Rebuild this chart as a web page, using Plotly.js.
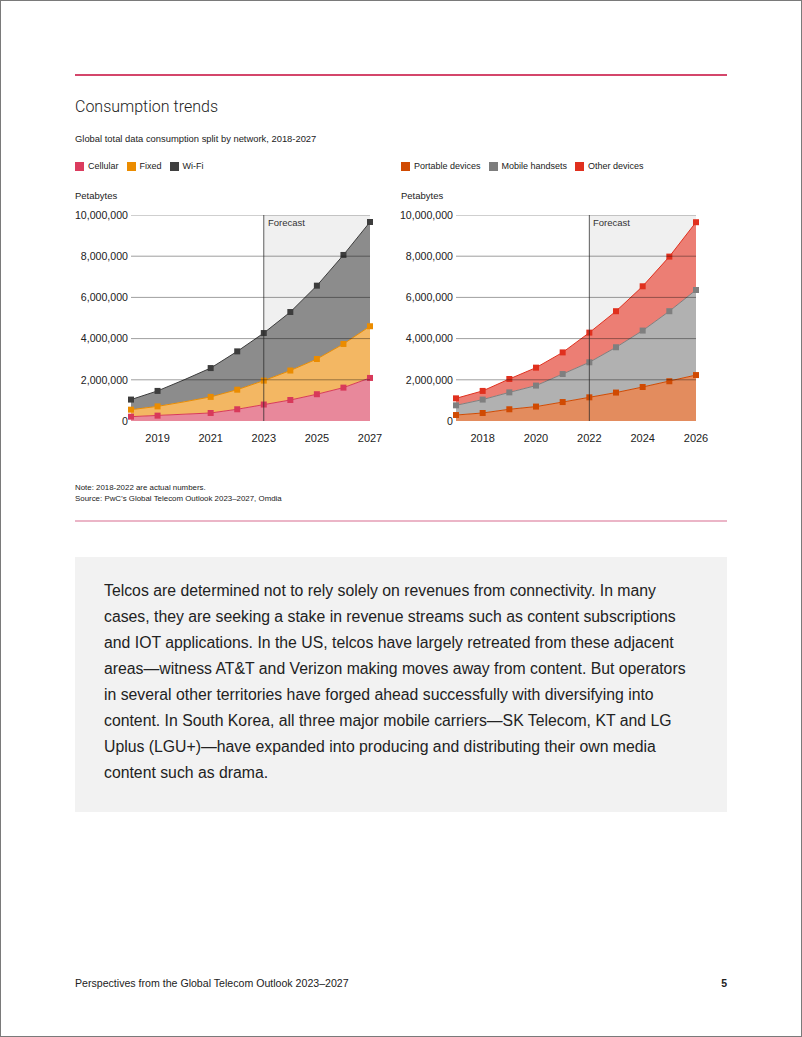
<!DOCTYPE html>
<html><head><meta charset="utf-8">
<script src="https://cdn.plot.ly/plotly-3.0.1.min.js"></script>
<style>
body{margin:0;background:#fff;}
#page{position:relative;width:802px;height:1037px;background:#fff;font-family:"Liberation Sans",Arial,Helvetica,sans-serif;color:#222;overflow:hidden;box-shadow:inset 0 0 0 1px #7a7a7a;}
.abs{position:absolute;white-space:nowrap;}
.legend{display:flex;align-items:center;font-size:9px;line-height:12px;color:#222;}
.legend .sq{width:9px;height:9px;margin-right:4px;}
.legend .it{display:flex;align-items:center;margin-right:8px;}
</style></head><body>
<div id="page">
  <div class="abs" style="left:75px;top:74px;width:652px;height:2px;background:#d4466b"></div>
  <div class="abs" style="left:75px;top:97px;font-size:16px;line-height:20px;font-family:Roboto,'Liberation Sans',sans-serif;font-weight:300;color:#222">Consumption trends</div>
  <div class="abs" style="left:75px;top:133px;font-size:9.4px;line-height:12px">Global total data consumption split by network, 2018-2027</div>
  <div id="legA" class="abs legend" style="left:75px;top:160px"></div>
  <div id="legB" class="abs legend" style="left:401px;top:160px"></div>
  <div class="abs" style="left:75px;top:190px;font-size:9.5px;line-height:12px">Petabytes</div>
  <div class="abs" style="left:401px;top:190px;font-size:9.5px;line-height:12px">Petabytes</div>
  <div id="chart" class="abs" style="left:0;top:150px;width:802px;height:310px"></div>
  <div class="abs" style="left:75px;top:482px;font-size:7.9px;line-height:11px">Note: 2018-2022 are actual numbers.<br>Source: PwC’s Global Telecom Outlook 2023–2027, Omdia</div>
  <div class="abs" style="left:75px;top:520px;width:652px;height:1.5px;background:#ebb5c7"></div>
  <div class="abs" style="left:75px;top:557px;width:652px;height:255px;background:#f2f2f2"></div>
  <div class="abs" style="left:104px;top:578px;font-size:15.8px;line-height:26px;color:#222">Telcos are determined not to rely solely on revenues from connectivity. In many<br>cases, they are seeking a stake in revenue streams such as content subscriptions<br>and IOT applications. In the US, telcos have largely retreated from these adjacent<br>areas—witness AT&amp;T and Verizon making moves away from content. But operators<br>in several other territories have forged ahead successfully with diversifying into<br>content. In South Korea, all three major mobile carriers—SK Telecom, KT and LG<br>Uplus (LGU+)—have expanded into producing and distributing their own media<br>content such as drama.</div>
  <div class="abs" style="left:75px;top:977px;font-size:10.6px;line-height:12px">Perspectives from the Global Telecom Outlook 2023–2027</div>
  <div class="abs" style="left:700px;width:27px;text-align:right;top:977px;font-size:10.5px;line-height:12px;font-weight:bold">5</div>
</div>
<script>
// ---- Data (petabytes) ----
const yearsA = [2018, 2019, 2020, 2021, 2022, 2023, 2024, 2025, 2026, 2027];
const cellular = [210000, 260000, 330000, 390000, 570000, 800000, 1020000, 1300000, 1620000, 2090000];
const fixed    = [340000, 450000, 600000, 780000, 950000, 1160000, 1430000, 1710000, 2120000, 2510000];
const wifi     = [490000, 750000, 1070000, 1400000, 1860000, 2310000, 2840000, 3560000, 4320000, 5060000];
const namesA = ['Cellular', 'Fixed', 'Wi-Fi'];

const yearsB = [2017, 2018, 2019, 2020, 2021, 2022, 2023, 2024, 2025, 2026];
const portable = [290000, 390000, 570000, 700000, 920000, 1150000, 1380000, 1650000, 1930000, 2230000];
const mobile   = [470000, 650000, 820000, 1020000, 1360000, 1700000, 2200000, 2740000, 3400000, 4130000];
const other    = [340000, 420000, 650000, 870000, 1050000, 1440000, 1750000, 2150000, 2650000, 3290000];
const namesB = ['Portable devices', 'Mobile handsets', 'Other devices'];

const ticksA = [2019, 2021, 2023, 2025, 2027];
const ticksB = [2018, 2020, 2022, 2024, 2026];
const yTicks = [0, 2000000, 4000000, 6000000, 8000000, 10000000];
const forecastA = 2023, forecastB = 2022;
const forecastLabel = 'Forecast';

// ---- Styles ----
const legColA = ['#db3c5e', '#eb8c00', '#404040'];
const fillA   = ['#e8889b', '#f3b763', '#8c8c8c'];
const mkA     = ['#d8395a', '#eb8c00', '#3d3d3d'];
const legColB = ['#d04a02', '#7d7d7d', '#e0301e'];
const fillB   = ['#e38c5e', '#b1b1b1', '#ec7e74'];
const mkB     = ['#d04a02', '#7f7f7f', '#e0301e'];

function buildLegend(id, names, cols) {
  const el = document.getElementById(id);
  names.forEach((n, i) => {
    const it = document.createElement('div'); it.className = 'it';
    const sq = document.createElement('div'); sq.className = 'sq'; sq.style.background = cols[i];
    const tx = document.createElement('span'); tx.textContent = n;
    it.appendChild(sq); it.appendChild(tx); el.appendChild(it);
  });
}
buildLegend('legA', namesA, legColA);
buildLegend('legB', namesB, legColB);

const missingA = yearsA.map(y => y === 2020 ? 0 : 1); // no marker drawn at 2020 in left chart

const traces = [];
[cellular, fixed, wifi].forEach((s, i) => traces.push({
  x: yearsA, y: s, type: 'scatter', mode: 'lines+markers', stackgroup: 'a',
  name: namesA[i], xaxis: 'x', yaxis: 'y', fillcolor: fillA[i],
  line: {color: mkA[i], width: 1},
  marker: {symbol: 'square', size: 6, color: mkA[i], opacity: missingA},
  cliponaxis: false, hoverinfo: 'x+y+name'
}));
[portable, mobile, other].forEach((s, i) => traces.push({
  x: yearsB, y: s, type: 'scatter', mode: 'lines+markers', stackgroup: 'b',
  name: namesB[i], xaxis: 'x2', yaxis: 'y2', fillcolor: fillB[i],
  line: {color: mkB[i], width: 1},
  marker: {symbol: 'square', size: 6, color: mkB[i]},
  cliponaxis: false, hoverinfo: 'x+y+name'
}));

function xa(domain, range, ticks, anchor) {
  return {domain: domain, range: range, tickvals: ticks, ticktext: ticks.map(String), anchor: anchor,
    showgrid: false, zeroline: false, showline: false, ticks: '', ticklabelstandoff: 9,
    tickfont: {size: 11, color: '#222'}, fixedrange: true};
}
function ya(anchor) {
  return {range: [0, 10000000], tickvals: yTicks, tickformat: ',d', anchor: anchor,
    showgrid: false, zeroline: false, showline: false, ticks: '', ticklabelstandoff: 2,
    tickfont: {size: 10.6, color: '#222'}, fixedrange: true};
}

const shapes = [];
const annotations = [];
[['x', 'y', forecastA, yearsA], ['x2', 'y2', forecastB, yearsB]].forEach(([xr, yr, f, yrs]) => {
  shapes.push({type: 'rect', xref: xr, yref: yr, x0: f, x1: yrs[yrs.length - 1], y0: 0, y1: 10000000,
    fillcolor: '#f0f0f0', line: {width: 0}, layer: 'below'});
  yTicks.slice(1).forEach(v => shapes.push({type: 'line', xref: xr + ' domain', yref: yr, x0: 0, x1: 1, y0: v, y1: v,
    line: {color: 'rgba(0,0,0,0.38)', width: 1}, layer: 'above'}));
  shapes.push({type: 'line', xref: xr, yref: yr, x0: f, x1: f, y0: 0, y1: 10000000,
    line: {color: 'rgba(40,40,40,0.75)', width: 1}, layer: 'above'});
  annotations.push({xref: xr, yref: yr, x: f, y: 10000000, text: forecastLabel, showarrow: false,
    xanchor: 'left', yanchor: 'top', xshift: 2, yshift: 0, font: {size: 9.5, color: '#333'}});
});

const layout = {
  width: 802, height: 310, margin: {l: 0, r: 0, t: 65, b: 39},
  paper_bgcolor: 'rgba(0,0,0,0)', plot_bgcolor: 'rgba(0,0,0,0)', showlegend: false,
  font: {family: '"Liberation Sans", Arial, sans-serif', size: 10.5, color: '#222'},
  xaxis: xa([131 / 802, 370 / 802], [2018, 2027], ticksA, 'y'),
  yaxis: ya('x'),
  xaxis2: xa([456 / 802, 696 / 802], [2017, 2026], ticksB, 'y2'),
  yaxis2: ya('x2'),
  shapes: shapes, annotations: annotations
};
Plotly.newPlot('chart', traces, layout, {displayModeBar: false, staticPlot: true});
</script>
</body></html>
